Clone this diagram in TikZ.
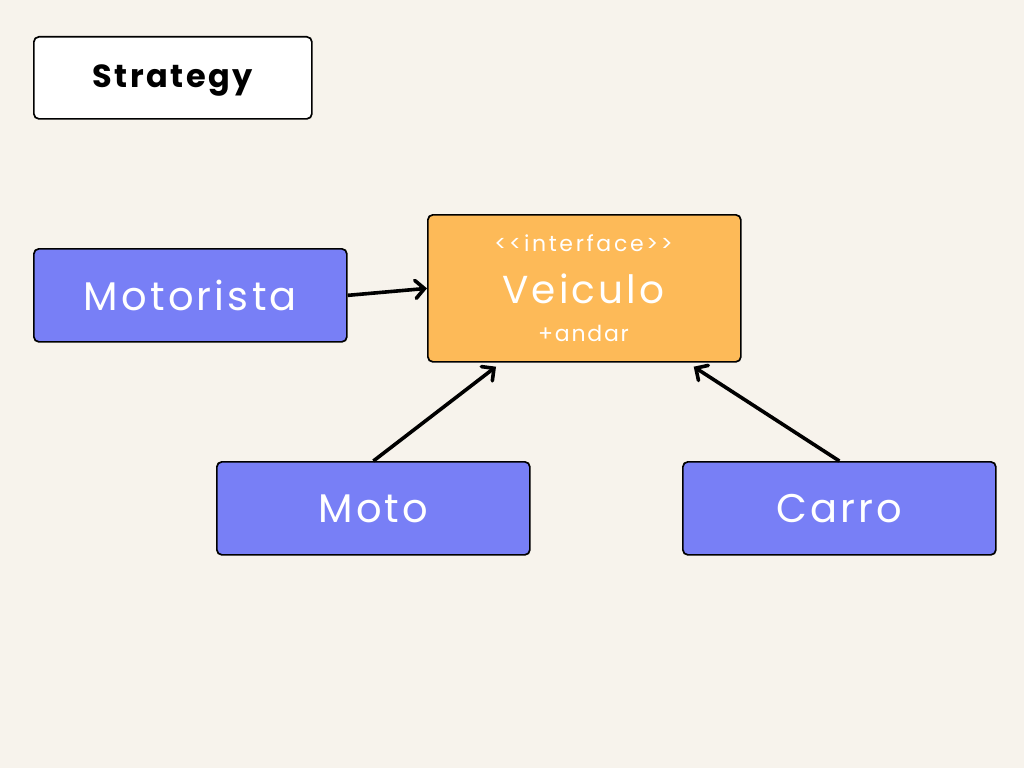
\documentclass[tikz,border=0pt]{standalone}
\usepackage{fontspec}
\setmainfont{Poppins}
\newfontfamily\lsfont[LetterSpace=8]{Poppins}
\newfontfamily\widefont[LetterSpace=12]{Poppins}
\newfontfamily\boldls[LetterSpace=8]{Poppins}
\usetikzlibrary{arrows.meta,calc}
\definecolor{bg}{HTML}{F7F3EC}
\definecolor{blu}{HTML}{787FF6}
\definecolor{ora}{HTML}{FDBA58}
\tikzset{
  box/.style={draw=black, line width=1.7pt, rounded corners=5pt, anchor=north west, inner sep=0pt},
  bluebox/.style={box, fill=blu, text=white, minimum width=313pt, minimum height=93pt, font=\lsfont\fontsize{40}{42}\selectfont},
  conn/.style={line width=3.6pt, -{Straight Barb[length=9pt,width=18pt,line width=3.6pt,line cap=round]}}
}
\begin{document}
\begin{tikzpicture}[x=1pt,y=-1pt]
\fill[bg] (0,0) rectangle (1024,768);
\useasboundingbox (0,0) rectangle (1024,768);
\node[box, fill=white, minimum width=278pt, minimum height=82pt] (strat) at (33,36) {};
\node[font=\boldls\bfseries\fontsize{32}{34}\selectfont] (stxt) at ([yshift=-3pt]strat.center) {Strategy};
\node[bluebox] (mot) at (33,248) {Motorista};
\node[bluebox] (moto) at (216,461) {Moto};
\node[bluebox] (carro) at (682,461) {Carro};
\node[box, fill=ora, minimum width=313pt, minimum height=147pt] (vei) at (427,214) {};
\node[text=white, font=\widefont\fontsize{22}{24}\selectfont] (ifc) at (583.5,243) {<<interface>>};
\node[text=white, font=\lsfont\fontsize{39}{41}\selectfont] (vname) at (583.5,289) {Veiculo};
\node[text=white, font=\lsfont\fontsize{22}{24}\selectfont] (op) at (583.5,333) {+andar};
\draw[conn] (mot.east) -- (vei.west);
\draw[conn] (moto.north) -- ([xshift=69pt,yshift=-4pt]vei.south west);
\draw[conn] (carro.north) -- ([xshift=-48pt,yshift=-4pt]vei.south east);
\end{tikzpicture}
\end{document}
